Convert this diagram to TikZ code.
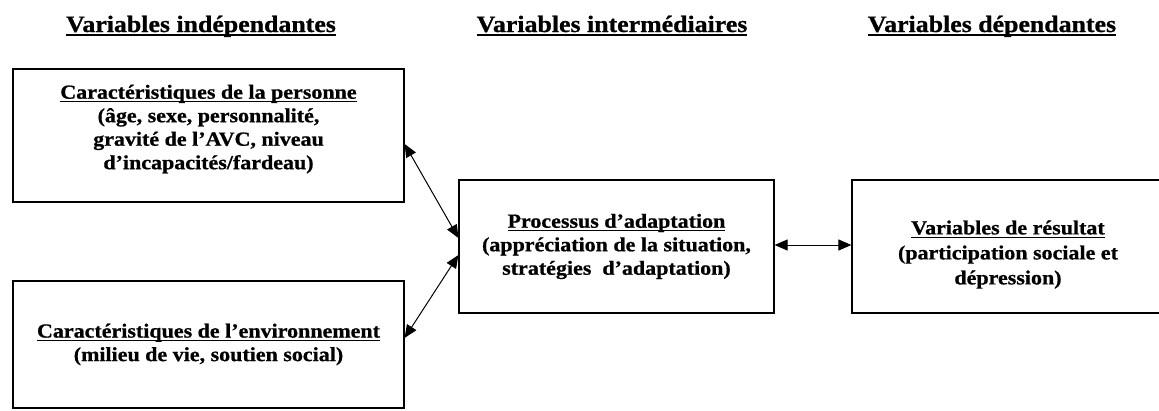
\documentclass[tikz,border=0pt]{standalone}
\usepackage{fontspec}
\setmainfont[FakeStretch=1.1,BoldFeatures={FakeBold=0.8}]{Liberation Serif}
\usetikzlibrary{arrows.meta}
\newcommand{\myul}[1]{\leavevmode\setbox0\hbox{#1}\rlap{\rule[-3.6pt]{\wd0}{1.3pt}}\box0}
\tikzset{
  heading/.style={font=\bfseries\fontsize{23.5}{28}\selectfont, inner sep=0pt, anchor=base},
  varbox/.style={draw, line width=1.2pt, align=center, inner sep=0pt,
    font=\bfseries\fontsize{20}{23.5}\selectfont},
  link/.style={line width=1pt, {Triangle[length=13pt,width=11pt]}-{Triangle[length=13pt,width=11pt]}}
}
\begin{document}
\begin{tikzpicture}[x=1pt,y=-1pt]
\useasboundingbox (0,0) rectangle (1159,410);
\clip (0,0) rectangle (1159,410);
\fill[white] (0,0) rectangle (1159,410);
\node[heading] (h1) at (201,32) {\myul{Variables indépendantes}};
\node[heading] (h2) at (612,32) {\myul{Variables intermédiaires}};
\node[heading] (h3) at (992,32) {\myul{Variables dépendantes}};
\node[varbox, minimum width=391pt, minimum height=133pt] (b1) at (208.5,135.5)
  {\myul{Caractéristiques de la personne}\\(âge, sexe, personnalité,\\gravité de l’AVC, niveau\\d’incapacités/fardeau)\rule[-17pt]{0pt}{1pt}};
\node[varbox, minimum width=391pt, minimum height=127pt] (b2) at (208.5,344.5)
  {\myul{Caractéristiques de l’environnement}\\(milieu de vie, soutien social)};
\node[varbox, minimum width=315pt, minimum height=133pt] (b3) at (616.5,246.5)
  {\myul{Processus d’adaptation}\\(appréciation de la situation,\\stratégies\ \ d’adaptation)};
\node[varbox, minimum width=312pt, minimum height=133pt] (b4) at (1008,246.5)
  {\rule{0pt}{30pt}\myul{Variables de résultat}\\[1.5pt](participation sociale et\\[1.5pt]dépression)};
\draw[link] ([yshift=-8.5pt]b1.east) -- ([yshift=8.5pt]b3.west);
\draw[link] ([yshift=6.5pt]b2.east) -- ([yshift=-8.5pt]b3.west);
\draw[link] ([yshift=1.5pt]b3.east) -- ([yshift=1.5pt]b4.west);
\end{tikzpicture}
\end{document}
